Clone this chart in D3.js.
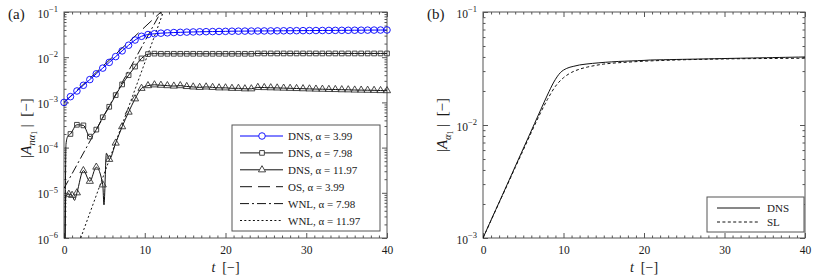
<!DOCTYPE html>
<html>
<head>
<meta charset="utf-8">
<script src="https://cdn.jsdelivr.net/npm/d3@7"></script>
<style>
  body { margin: 0; background: #fff; }
  svg { font-family: 'Liberation Serif', 'DejaVu Serif', serif; }
</style>
</head>
<body>
<svg id="chart" width="830" height="278"></svg>
<script>
// sample times of the DNS output (markers)
const tMarks = [0, 0.8, 1.6, 2.4, 3.2, 4, 4.8, 5.6, 6.4, 7.2, 8, 8.8, 9.6, 10.4, 11.2, 12, 12.8, 13.6, 14.4, 15.2,
  16, 16.8, 17.6, 18.4, 19.2, 20, 20.8, 21.6, 22.4, 23.2, 24, 24.8, 25.6, 26.4, 27.2, 28, 28.8, 29.6, 30.4, 31.2,
  32, 32.8, 33.6, 34.4, 35.2, 36, 36.8, 37.6, 38.4, 39.2, 40]

// DNS, alpha = 3.99 (also the DNS curve of panel b)
const dns399 = [1.00e-3, 1.34e-3, 1.79e-3, 2.39e-3, 3.20e-3, 4.29e-3, 5.74e-3, 7.68e-3, 1.03e-2, 1.38e-2,
  1.84e-2, 2.40e-2, 2.90e-2, 3.17e-2, 3.30e-2, 3.40e-2, 3.46e-2, 3.51e-2, 3.55e-2, 3.59e-2,
  3.62e-2, 3.65e-2, 3.67e-2, 3.69e-2, 3.71e-2, 3.73e-2, 3.76e-2, 3.77e-2, 3.78e-2, 3.79e-2,
  3.80e-2, 3.81e-2, 3.82e-2, 3.83e-2, 3.84e-2, 3.85e-2, 3.86e-2, 3.87e-2, 3.88e-2, 3.89e-2,
  3.90e-2, 3.91e-2, 3.92e-2, 3.93e-2, 3.94e-2, 3.95e-2, 3.96e-2, 3.97e-2, 3.98e-2, 3.99e-2, 4.00e-2]

// DNS, alpha = 7.98 (marked from t = 0.8)
const dns798T = tMarks.slice(1)
const dns798 = [2.0e-4, 3.2e-4, 3.1e-4, 1.75e-4, 2.5e-4, 4.7e-4, 8.0e-4, 1.45e-3, 2.5e-3, 4.0e-3,
  6.2e-3, 9.4e-3, 1.17e-2, 1.20e-2, 1.19e-2, 1.19e-2, 1.19e-2, 1.19e-2, 1.19e-2, 1.19e-2,
  1.19e-2, 1.19e-2, 1.19e-2, 1.19e-2, 1.19e-2, 1.19e-2, 1.19e-2, 1.19e-2, 1.19e-2, 1.21e-2,
  1.21e-2, 1.21e-2, 1.21e-2, 1.21e-2, 1.21e-2, 1.21e-2, 1.21e-2, 1.21e-2, 1.21e-2, 1.21e-2,
  1.21e-2, 1.21e-2, 1.21e-2, 1.21e-2, 1.21e-2, 1.21e-2, 1.21e-2, 1.21e-2, 1.21e-2, 1.21e-2]
const dns798ExtraT = [0.1, 0.25, 0.45]
const dns798Extra = [1e-7, 1.2e-4, 1.75e-4]

// DNS, alpha = 11.97
const dns1197T = [0.6, 1.0].concat(tMarks.slice(2))
const dns1197 = [9.3e-6, 8.8e-6, 1.0e-5, 3.1e-5, 1.8e-5, 3.7e-5, 1.5e-5, 5.5e-5, 1.26e-4, 2.9e-4,
  6.1e-4, 1.2e-3, 2.05e-3, 2.35e-3, 2.45e-3, 2.4e-3, 2.35e-3, 2.3e-3, 2.35e-3, 2.25e-3,
  2.2e-3, 2.15e-3, 2.2e-3, 2.15e-3, 2.1e-3, 2.1e-3, 2.05e-3, 2.05e-3, 2.0e-3, 2.0e-3,
  2.15e-3, 2.13e-3, 2.11e-3, 2.09e-3, 2.07e-3, 2.05e-3, 2.03e-3, 2.01e-3, 1.99e-3, 1.97e-3,
  1.96e-3, 1.94e-3, 1.93e-3, 1.91e-3, 1.90e-3, 1.88e-3, 1.87e-3, 1.86e-3, 1.85e-3, 1.83e-3, 1.82e-3]
const dns1197ExtraT = [0.1, 0.22, 1.3, 4.95, 5.25]
const dns1197Extra = [1e-7, 8.5e-6, 6.8e-6, 5.4e-6, 7.5e-5]

// theory lines (exponential growth, straight on log axis)
const os399T = [0, 12]
const os399 = [1e-3, 1e-1]
const wnl798T = [0, 12]
const wnl798 = [1.25e-5, 1e-1]
const wnl1197T = [2.07, 12.3]
const wnl1197 = [1e-6, 1e-1]

// panel b: SL model
const slT = [0, 1, 2, 3, 4, 5, 6, 7, 8, 9, 10, 11, 12, 13, 14, 15, 16, 18, 20, 22, 25, 28, 32, 36, 40]
const sl = [1.0e-3, 1.43e-3, 2.05e-3, 2.93e-3, 4.2e-3, 6.0e-3, 8.6e-3, 1.22e-2, 1.68e-2, 2.2e-2,
  2.62e-2, 2.92e-2, 3.12e-2, 3.26e-2, 3.37e-2, 3.46e-2, 3.52e-2, 3.6e-2, 3.67e-2, 3.72e-2,
  3.78e-2, 3.82e-2, 3.86e-2, 3.88e-2, 3.9e-2]

const tTicks = [0, 10, 20, 30, 40]
const decadesA = [1e-6, 1e-5, 1e-4, 1e-3, 1e-2, 1e-1]
const decadesB = [1e-3, 1e-2, 1e-1]
const legendA = ['DNS, α = 3.99', 'DNS, α = 7.98', 'DNS, α = 11.97', 'OS, α = 3.99', 'WNL, α = 7.98', 'WNL, α = 11.97']
const legendB = ['DNS', 'SL']

const svg = d3.select('#chart')
const axisColor = '#555'
const textColor = '#1a1a1a'

const zip = (ts, vs) => ts.map((t, i) => ({ t: t, v: vs[i] }))
const merged = (ts, vs, ets, evs) => zip(ts, vs).concat(zip(ets, evs)).sort((a, b) => a.t - b.t)

function drawPanel(p, decades, id) {
  const x = d3.scaleLinear().domain([0, 40]).range([p.left, p.right])
  const y = d3.scaleLog().domain([decades[0], decades[decades.length - 1]]).range([p.bottom, p.top])
  const g = svg.append('g')

  const tMinor = d3.range(1, 40).filter(d => d % 10 !== 0)
  const yMinor = []
  decades.slice(0, -1).forEach(d => { for (let k = 2; k <= 9; k++) yMinor.push(d * k) })

  const clean = sel => {
    sel.select('.domain').remove()
    sel.attr('color', axisColor).attr('font-family', null).attr('font-size', null)
  }

  // minor ticks on all four sides, pointing inward
  g.append('g').attr('transform', `translate(0,${p.bottom})`)
    .call(d3.axisBottom(x).tickValues(tMinor).tickSize(-2.5).tickFormat('')).call(clean)
  g.append('g').attr('transform', `translate(0,${p.top})`)
    .call(d3.axisTop(x).tickValues(tMinor).tickSize(-2.5).tickFormat('')).call(clean)
  g.append('g').attr('transform', `translate(${p.left},0)`)
    .call(d3.axisLeft(y).tickValues(yMinor).tickSize(-2.5).tickFormat('')).call(clean)
  g.append('g').attr('transform', `translate(${p.right},0)`)
    .call(d3.axisRight(y).tickValues(yMinor).tickSize(-2.5).tickFormat('')).call(clean)

  // major ticks
  const xAxis = g.append('g').attr('transform', `translate(0,${p.bottom})`)
    .call(d3.axisBottom(x).tickValues(tTicks).tickSize(-5).tickPadding(8)).call(clean)
  xAxis.selectAll('text').attr('fill', textColor).attr('font-size', 11.5)
  g.append('g').attr('transform', `translate(0,${p.top})`)
    .call(d3.axisTop(x).tickValues(tTicks).tickSize(-5).tickFormat('')).call(clean)
  g.append('g').attr('transform', `translate(${p.right},0)`)
    .call(d3.axisRight(y).tickValues(decades).tickSize(-5).tickFormat('')).call(clean)

  const yAxis = g.append('g').attr('transform', `translate(${p.left},0)`)
    .call(d3.axisLeft(y).tickValues(decades).tickSize(-5).tickFormat('')).call(clean)
  yAxis.selectAll('.tick text').remove()
  yAxis.selectAll('.tick').append('text')
    .attr('x', -6)
    .attr('y', 5)
    .attr('text-anchor', 'end')
    .attr('fill', textColor)
    .attr('font-size', 11.5)
    .each(function(d) {
      const t = d3.select(this)
      t.append('tspan').text('10')
      t.append('tspan').attr('dy', -5.5).attr('font-size', 8.5)
        .text('−' + Math.abs(Math.round(Math.log10(d))))
    })

  // frame
  g.append('rect')
    .attr('x', p.left).attr('y', p.top)
    .attr('width', p.right - p.left).attr('height', p.bottom - p.top)
    .attr('fill', 'none').attr('stroke', axisColor).attr('stroke-width', 1)

  g.append('clipPath').attr('id', id)
    .append('rect')
    .attr('x', p.left).attr('y', p.top)
    .attr('width', p.right - p.left).attr('height', p.bottom - p.top)

  // x title
  const xt = g.append('text')
    .attr('x', (p.left + p.right) / 2)
    .attr('y', 272)
    .attr('text-anchor', 'middle')
    .attr('font-size', 14)
    .attr('fill', textColor)
  xt.append('tspan').attr('font-style', 'italic').text('t')
  xt.append('tspan').attr('xml:space', 'preserve').text('  [−]')

  return { x, y, g }
}

function addLine(panel, clipId, data, color, dash, width) {
  const line = d3.line()
    .x(d => panel.x(d.t))
    .y(d => panel.y(d.v))
    .curve(d3.curveMonotoneX)
  panel.g.append('path')
    .attr('clip-path', `url(#${clipId})`)
    .attr('d', line(data))
    .attr('fill', 'none')
    .attr('stroke', color)
    .attr('stroke-width', width || 1)
    .attr('stroke-dasharray', dash)
}

const symbols = {
  circle: d3.symbol(d3.symbolCircle, 34),
  square: d3.symbol(d3.symbolSquare, 22),
  triangle: d3.symbol(d3.symbolTriangle, 22)
}

function addMarkers(panel, data, type, color) {
  panel.g.append('g')
    .selectAll('path')
    .data(data)
    .enter()
    .append('path')
    .attr('transform', d => `translate(${panel.x(d.t)},${panel.y(d.v)})`)
    .attr('d', symbols[type]())
    .attr('fill', 'none')
    .attr('stroke', color)
    .attr('stroke-width', 0.9)
}

// ---------- panel (a)
const pA = drawPanel({ left: 64, right: 387, top: 12, bottom: 238 }, decadesA, 'clipA')

addLine(pA, 'clipA', zip(os399T, os399), '#111', '12,6')
addLine(pA, 'clipA', zip(wnl798T, wnl798), '#111', '9,3,2,3')
addLine(pA, 'clipA', zip(wnl1197T, wnl1197), '#111', '2,2.3')

addLine(pA, 'clipA', merged(dns1197T, dns1197, dns1197ExtraT, dns1197Extra), '#111')
addMarkers(pA, zip(dns1197T, dns1197), 'triangle', '#333')
addLine(pA, 'clipA', merged(dns798T, dns798, dns798ExtraT, dns798Extra), '#111')
addMarkers(pA, zip(dns798T, dns798), 'square', '#333')
addLine(pA, 'clipA', zip(tMarks, dns399), '#0000ff')
addMarkers(pA, zip(tMarks, dns399), 'circle', '#0000ff')

// y label (a)
function yLabel(x, y, sub1) {
  const t = svg.append('text')
    .attr('transform', `translate(${x},${y}) rotate(-90)`)
    .attr('text-anchor', 'middle')
    .attr('font-size', 15)
    .attr('fill', textColor)
  t.append('tspan').text('|')
  t.append('tspan').attr('font-style', 'italic').text('A')
  t.append('tspan').attr('font-size', 10.5).attr('dy', 4).attr('font-style', 'italic').text(sub1)
  t.append('tspan').attr('font-size', 7.5).attr('dy', 2).text('1')
  t.append('tspan').attr('dy', -6).attr('xml:space', 'preserve').text(' |  [−]')
}
yLabel(31, 128, 'nα')

svg.append('text').attr('x', 8).attr('y', 19).attr('font-size', 15).attr('fill', textColor).text('(a)')

// legend (a)
const legA = svg.append('g').attr('transform', 'translate(232,125)')
legA.append('rect').attr('width', 148).attr('height', 106)
  .attr('fill', '#fff').attr('stroke', axisColor).attr('stroke-width', 1)
const legStyleA = [
  { color: '#0000ff', dash: null, marker: 'circle' },
  { color: '#111', dash: null, marker: 'square' },
  { color: '#111', dash: null, marker: 'triangle' },
  { color: '#111', dash: '12,6', marker: null },
  { color: '#111', dash: '9,3,2,3', marker: null },
  { color: '#111', dash: '2,2.3', marker: null }
]
legendA.forEach((label, i) => {
  const row = legA.append('g').attr('transform', `translate(0,${11 + i * 16.9})`)
  const s = legStyleA[i]
  row.append('line').attr('x1', 8).attr('x2', 51).attr('y1', 0).attr('y2', 0)
    .attr('stroke', s.color).attr('stroke-width', 1).attr('stroke-dasharray', s.dash)
  if (s.marker) {
    row.append('path').attr('transform', 'translate(30,0)').attr('d', symbols[s.marker]())
      .attr('fill', '#fff').attr('stroke', s.color === '#111' ? '#333' : s.color).attr('stroke-width', 0.9)
  }
  row.append('text').attr('x', 56).attr('y', 4).attr('font-size', 11).attr('fill', textColor).text(label)
})

// ---------- panel (b)
const pB = drawPanel({ left: 483, right: 805, top: 12, bottom: 238 }, decadesB, 'clipB')
addLine(pB, 'clipB', zip(slT, sl), '#111', '3,2.4')
addLine(pB, 'clipB', zip(tMarks, dns399), '#111')

yLabel(447, 125, 'α')
svg.append('text').attr('x', 427).attr('y', 19).attr('font-size', 15).attr('fill', textColor).text('(b)')

const legB = svg.append('g').attr('transform', 'translate(707,197)')
legB.append('rect').attr('width', 97).attr('height', 35)
  .attr('fill', '#fff').attr('stroke', axisColor).attr('stroke-width', 1)
legendB.forEach((label, i) => {
  const row = legB.append('g').attr('transform', `translate(0,${11 + i * 14})`)
  row.append('line').attr('x1', 10).attr('x2', 53).attr('y1', 0).attr('y2', 0)
    .attr('stroke', '#111').attr('stroke-width', 1).attr('stroke-dasharray', i === 1 ? '3,2.4' : null)
  row.append('text').attr('x', 60).attr('y', 4).attr('font-size', 11).attr('fill', textColor).text(label)
})
</script>
</body>
</html>
